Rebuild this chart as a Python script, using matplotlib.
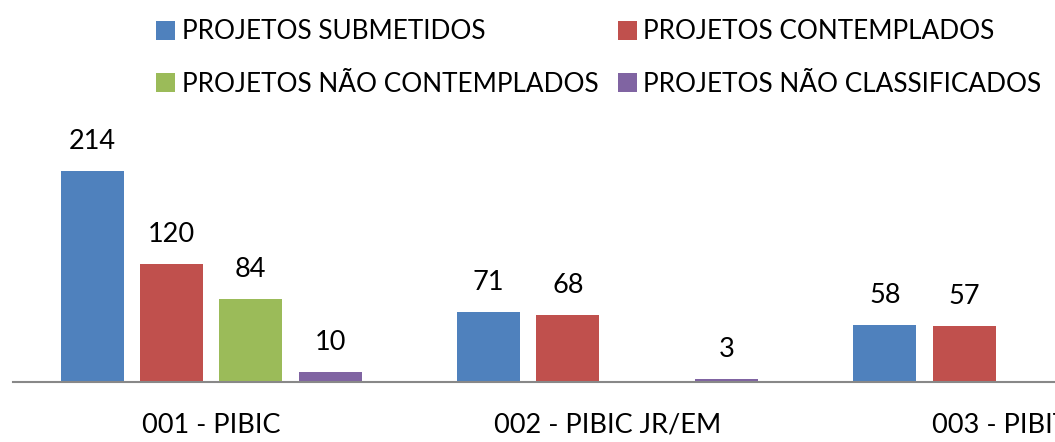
import matplotlib
matplotlib.use("Agg")
import matplotlib.pyplot as plt
import numpy as np

categories = ["001 - PIBIC", "002 - PIBIC JR/EM", "003 - PIBITI"]
series_names = ["PROJETOS SUBMETIDOS", "PROJETOS CONTEMPLADOS",
                "PROJETOS NÃO CONTEMPLADOS", "PROJETOS NÃO CLASSIFICADOS"]
submetidos = [214, 71, 58]
contemplados = [120, 68, 57]
nao_contemplados = [84, 0, 0]
nao_classificados = [10, 3, 0]
colors = ["#4F81BD", "#C0504D", "#9BBB59", "#8064A2"]

series = [submetidos, contemplados, nao_contemplados, nao_classificados]

plt.rcParams['font.family'] = ['Lato', 'DejaVu Sans']

fig = plt.figure(figsize=(10.55, 4.42), dpi=100)
ax = fig.add_axes([13/1055, 60/442, 1 - 13/1055, 272/442])

x = np.arange(len(categories))
step = 0.2
width = 0.159
handles = []
for i, (vals, c, name) in enumerate(zip(series, colors, series_names)):
    pos = x + (i - 1.5) * step
    bars = ax.bar(pos, vals, width, color=c, label=name)
    handles.append(bars)
    for p, v in zip(pos, vals):
        if v > 0:
            ax.text(p, v + 17, str(v), ha='center', va='bottom', fontsize=19.5)

ax.set_xlim(-0.5, 2.129)
ax.set_ylim(0, 276)
ax.set_yticks([])
ax.set_xticks(x)
ax.set_xticklabels(categories, fontsize=19.5)
ax.tick_params(axis='x', length=0, pad=22)
for s in ['top', 'right', 'left']:
    ax.spines[s].set_visible(False)
ax.spines['bottom'].set_color('#888888')
ax.spines['bottom'].set_linewidth(1.5)

order = [0, 2, 1, 3]
fig.legend(handles=[handles[i] for i in order],
           labels=[series_names[i] for i in order], ncol=2, loc='upper left',
           bbox_to_anchor=(146/1055, 1 - 9/442), frameon=False, fontsize=18.8,
           handlelength=0.72, handleheight=0.72, handletextpad=0.25,
           columnspacing=0.75, labelspacing=1.05, borderaxespad=0)

fig.savefig("out.png", dpi=100)
